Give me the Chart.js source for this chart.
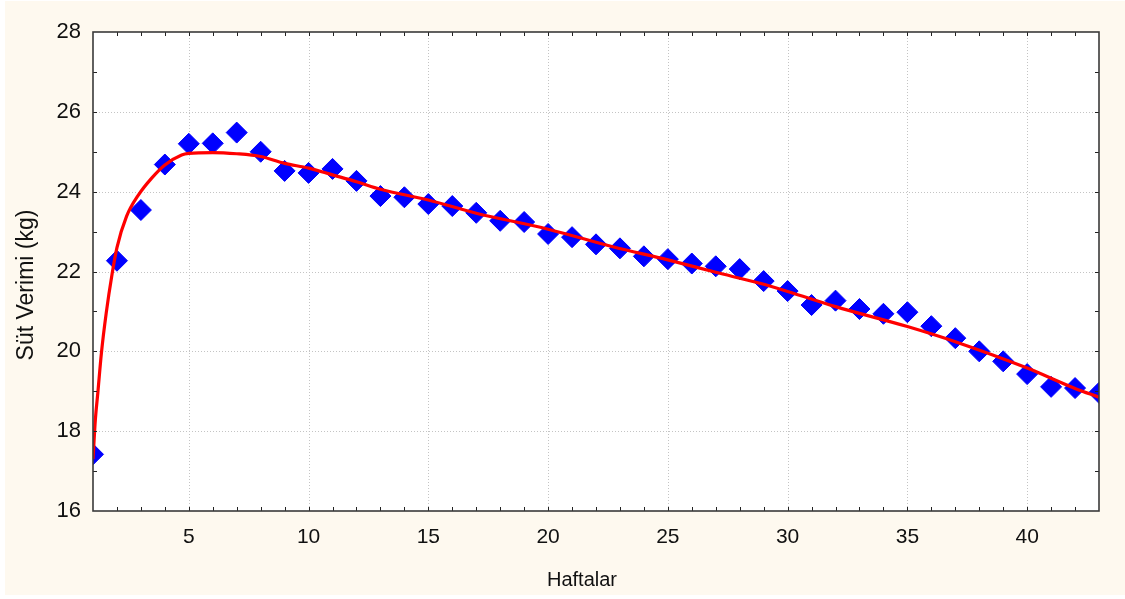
<!DOCTYPE html>
<html><head><meta charset="utf-8">
<script src="https://cdn.jsdelivr.net/npm/chart.js@4/dist/chart.umd.min.js"></script>
<style>html,body{margin:0;padding:0;background:#fff;overflow:hidden;}</style>
</head><body>
<canvas id="c" width="1125" height="599" style="display:block;width:1125px;height:599px"></canvas>
<script>
// ---- data ----
const weeks = [1,2,3,4,5,6,7,8,9,10,11,12,13,14,15,16,17,18,19,20,21,22,23,24,25,26,27,28,29,30,31,32,33,34,35,36,37,38,39,40,41,42,43];
const milk = [17.42,22.27,23.54,24.68,25.20,25.21,25.48,25.00,24.52,24.47,24.57,24.27,23.89,23.86,23.69,23.64,23.47,23.27,23.24,22.94,22.86,22.68,22.58,22.38,22.31,22.20,22.13,22.06,21.76,21.51,21.16,21.27,21.06,20.94,20.98,20.63,20.33,20.00,19.75,19.43,19.11,19.08,18.96];
const fitWeeks = [1,1.1,1.2,1.35,1.55,1.8,2,2.4,2.9,3.45,4,4.7,5,6,7,8,9,10,11,12,13,15,17,20,22.7,25,27,28.8,30,32,35,37,40,42,43];
const fitMilk = [17.3,18.3,18.95,19.95,20.95,21.95,22.6,23.38,23.92,24.34,24.67,24.92,24.96,24.98,24.95,24.88,24.71,24.59,24.42,24.25,24.06,23.79,23.46,23.06,22.62,22.29,21.98,21.71,21.5,21.12,20.62,20.24,19.58,19.07,18.85];
const xTickValues = [5,10,15,20,25,30,35,40];
const yTickValues = [16,18,20,22,24,26,28];
const xTitle = 'Haftalar';
const yTitle = 'Süt Verimi (kg)';

const FONT = "'Liberation Sans', Arial, sans-serif";
const CREAM = '#FEF9EF';

const decor = {
  id: 'decor',
  beforeDraw(chart) {
    const ctx = chart.ctx, a = chart.chartArea;
    ctx.save();
    ctx.fillStyle = '#ffffff';
    ctx.fillRect(0, 0, chart.width, chart.height);
    ctx.fillStyle = CREAM;
    ctx.fillRect(5, 1, chart.width - 5, 594);
    ctx.fillStyle = '#ffffff';
    ctx.fillRect(a.left, a.top, a.right - a.left, a.bottom - a.top);
    // dotted grid
    const xs = chart.scales.x, ys = chart.scales.y;
    ctx.strokeStyle = '#c4c4c4';
    ctx.lineWidth = 1;
    ctx.setLineDash([1, 2]);
    ctx.beginPath();
    xTickValues.forEach(v => {
      const px = Math.round(xs.getPixelForValue(v)) + 0.5;
      ctx.moveTo(px, a.top); ctx.lineTo(px, a.bottom);
    });
    yTickValues.forEach(v => {
      if (v <= ys.min || v >= ys.max) return;
      const py = Math.round(ys.getPixelForValue(v)) + 0.5;
      ctx.moveTo(a.left, py); ctx.lineTo(a.right, py);
    });
    ctx.stroke();
    ctx.restore();
  },
  beforeDatasetsDraw(chart) {
    const ctx = chart.ctx, a = chart.chartArea;
    ctx.save();
    ctx.beginPath();
    ctx.rect(a.left, a.top, a.right - a.left, a.bottom - a.top);
    ctx.clip();
  },
  afterDatasetsDraw(chart) {
    chart.ctx.restore();
  },
  afterDraw(chart) {
    const ctx = chart.ctx, a = chart.chartArea;
    const xs = chart.scales.x, ys = chart.scales.y;
    ctx.save();
    // inner tick marks
    ctx.strokeStyle = '#222';
    ctx.lineWidth = 1;
    ctx.beginPath();
    for (let v = Math.ceil(xs.min) + 1; v < xs.max; v++) {
      const px = Math.round(xs.getPixelForValue(v)) + 0.5;
      ctx.moveTo(px, a.bottom); ctx.lineTo(px, a.bottom - 4);
      ctx.moveTo(px, a.top); ctx.lineTo(px, a.top + 4);
    }
    for (let v = ys.min + 1; v < ys.max; v++) {
      const py = Math.round(ys.getPixelForValue(v)) + 0.5;
      ctx.moveTo(a.left, py); ctx.lineTo(a.left + 4, py);
      ctx.moveTo(a.right, py); ctx.lineTo(a.right - 4, py);
    }
    ctx.stroke();
    // frame
    ctx.strokeStyle = '#3a3a3a';
    ctx.lineWidth = 1.6;
    ctx.strokeRect(a.left, a.top, a.right - a.left, a.bottom - a.top);
    // axis titles
    ctx.fillStyle = '#111';
    ctx.textAlign = 'center';
    ctx.textBaseline = 'middle';
    ctx.font = '20px ' + FONT;
    ctx.fillText(xTitle, 582, 580);
    ctx.font = '23px ' + FONT;
    ctx.translate(27, 285);
    ctx.rotate(-Math.PI / 2);
    ctx.fillText(yTitle, 0, 0);
    ctx.restore();
  }
};

new Chart(document.getElementById('c'), {
  type: 'scatter',
  data: {
    datasets: [
      {
        type: 'line',
        data: fitWeeks.map((w, i) => ({x: w, y: fitMilk[i]})),
        borderColor: '#ff0000',
        borderWidth: 3.2,
        pointRadius: 0,
        cubicInterpolationMode: 'monotone',
        fill: false,
        clip: {left: 0, top: 0, right: 0, bottom: 0},
        order: 0
      },
      {
        data: weeks.map((w, i) => ({x: w, y: milk[i]})),
        pointStyle: 'rectRot',
        pointRadius: 10.5,
        pointBackgroundColor: '#0000ff',
        pointBorderColor: '#0000ff',
        pointBorderWidth: 1,
        showLine: false,
        clip: {left: 0, top: 0, right: 0, bottom: 0},
        order: 1
      }
    ]
  },
  options: {
    responsive: false,
    animation: false,
    events: [],
    layout: { padding: { left: 0, top: 32, right: 26, bottom: 0 } },
    plugins: { legend: { display: false }, tooltip: { enabled: false }, title: { display: false } },
    scales: {
      x: {
        type: 'linear', min: 1, max: 43,
        afterBuildTicks: s => { s.ticks = xTickValues.map(v => ({value: v})); },
        afterFit: s => { s.height = 88; },
        grid: { display: false, drawTicks: false },
        border: { display: false },
        ticks: { padding: 14, color: '#111', font: { family: FONT, size: 21 }, maxRotation: 0, autoSkip: false }
      },
      y: {
        type: 'linear', min: 16, max: 28,
        afterBuildTicks: s => { s.ticks = yTickValues.map(v => ({value: v})); },
        afterFit: s => { s.width = 93; },
        grid: { display: false, drawTicks: false },
        border: { display: false },
        ticks: { padding: 12, color: '#111', font: { family: FONT, size: 22 } }
      }
    }
  },
  plugins: [decor]
});
</script>
</body></html>
